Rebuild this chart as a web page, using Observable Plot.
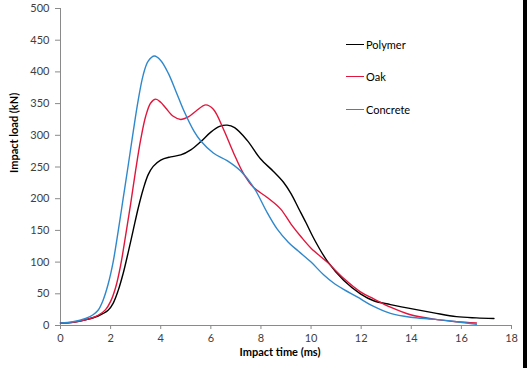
<!DOCTYPE html>
<html>
<head>
<meta charset="utf-8">
<script src="https://cdn.jsdelivr.net/npm/d3@7"></script>
<script src="https://cdn.jsdelivr.net/npm/@observablehq/plot@0.6"></script>
<style>
  html, body { margin: 0; padding: 0; background: #fff; }
  #wrap { position: relative; width: 527px; height: 368px; overflow: hidden; }
  #legend { position: absolute; left: 346px; top: 35px; font-family: Lato, sans-serif; font-size: 11px; color: #000; }
  .row { display: flex; align-items: center; height: 18px; margin-bottom: 14.5px; }
  .sw { width: 18px; height: 0; border-top: 1.3px solid; margin-right: 2px; }
  #edge { position: absolute; left: 523px; top: 0; width: 4px; height: 368px; background: #000; }
</style>
</head>
<body>
<div id="wrap"><div id="chart"></div><div id="legend"></div><div id="edge"></div></div>
<script>
const seriesNames = ["Polymer", "Oak", "Concrete"];
const seriesColors = ["#000000", "#e0163c", "#2f88cc"];

const polymerT = [0, 0.5, 1, 1.5, 1.9, 2.1, 2.3, 2.5, 2.7, 2.9, 3.1, 3.3, 3.5, 3.7, 4.0, 4.4, 4.8, 5.2, 5.6, 6.0, 6.35, 6.65, 6.95, 7.45, 7.98, 8.5, 8.9, 9.2, 9.5, 9.8, 10.1, 10.64, 11.31, 11.97, 12.5, 13.17, 14.2, 14.9, 15.8, 16.6, 17.3];
const polymerV = [4, 5, 9, 15, 24, 35, 55, 82, 115, 150, 185, 215, 238, 251, 261, 266, 269, 277, 290, 305, 314, 316, 312, 292, 263, 243, 226, 208, 185, 162, 138, 102, 71, 50, 39, 33, 25, 20, 14, 12, 11];

const oakT = [0, 0.5, 1, 1.5, 1.8, 2.0, 2.2, 2.4, 2.6, 2.8, 3.0, 3.2, 3.4, 3.6, 3.8, 4.0, 4.2, 4.5, 4.8, 5.1, 5.4, 5.8, 6.1, 6.5, 6.9, 7.3, 7.7, 8.25, 8.78, 9.2, 9.6, 10.0, 10.64, 11.31, 11.97, 12.5, 13.17, 13.97, 14.9, 15.8, 16.6];
const oakV = [4, 5, 9, 16, 25, 38, 60, 95, 142, 192, 245, 293, 330, 351, 357, 352, 343, 330, 325, 329, 338, 348, 341, 310, 273, 240, 218, 202, 184, 160, 140, 122, 100, 74, 53, 42, 29, 17, 10, 6, 4];

const concreteT = [0, 0.5, 1.0, 1.3, 1.5, 1.7, 1.9, 2.1, 2.3, 2.5, 2.7, 2.9, 3.1, 3.3, 3.5, 3.75, 4.0, 4.3, 4.6, 4.92, 5.32, 5.6, 6.1, 6.65, 7.18, 7.71, 8.25, 8.65, 9.1, 9.5, 10.0, 10.5, 10.9, 11.3, 11.84, 12.5, 13.17, 13.97, 14.9, 15.8, 16.6];
const concreteV = [4, 6, 11, 17, 24, 40, 65, 100, 148, 200, 252, 305, 355, 395, 417, 425, 418, 398, 370, 339, 307, 291, 272, 260, 244, 218, 178, 152, 131, 117, 100, 80, 67, 57, 45, 30, 19, 13, 10, 6, 2];

const xTicks = [0, 2, 4, 6, 8, 10, 12, 14, 16, 18];
const yTicks = [0, 50, 100, 150, 200, 250, 300, 350, 400, 450, 500];
const xLabel = "Impact time (ms)";
const yLabel = "Impact load (kN)";

const times = [polymerT, oakT, concreteT];
const values = [polymerV, oakV, concreteV];
const data = [];
seriesNames.forEach((name, i) => {
  times[i].forEach((t, j) => data.push({series: name, t, v: values[i][j]}));
});

const chart = Plot.plot({
  width: 527,
  height: 368,
  marginLeft: 60,
  marginRight: 16,
  marginTop: 8,
  marginBottom: 43,
  style: {fontFamily: "Lato, sans-serif", fontSize: "11px", color: "#404040", background: "#fff"},
  x: {domain: [0, 18]},
  y: {domain: [0, 500]},
  color: {domain: seriesNames, range: seriesColors},
  marks: [
    Plot.axisX({ticks: xTicks, tickSize: 4, tickPadding: 5, stroke: "#8a8a8a", fill: "#404040", label: null}),
    Plot.axisY({ticks: yTicks, tickSize: 5, tickPadding: 6, stroke: "#8a8a8a", fill: "#404040", label: null}),
    Plot.ruleY([0], {stroke: "#8a8a8a"}),
    Plot.ruleX([0], {stroke: "#8a8a8a"}),
    Plot.line(data, {x: "t", y: "v", z: "series", stroke: "series", strokeWidth: 1.4, curve: "catmull-rom"}),
    Plot.text([xLabel], {frameAnchor: "bottom", dx: -6, dy: 30, fontWeight: "bold", fill: "#000", fontSize: 11}),
    Plot.text([yLabel], {frameAnchor: "left", dx: -46, dy: 6, rotate: -90, fontWeight: "bold", fill: "#000", fontSize: 11})
  ]
});
document.getElementById("chart").appendChild(chart);

const legend = document.getElementById("legend");
seriesNames.forEach((name, i) => {
  const row = document.createElement("div");
  row.className = "row";
  const sw = document.createElement("div");
  sw.className = "sw";
  sw.style.borderTopColor = seriesColors[i];
  const lab = document.createElement("span");
  lab.textContent = name;
  row.appendChild(sw);
  row.appendChild(lab);
  legend.appendChild(row);
});
</script>
</body>
</html>
